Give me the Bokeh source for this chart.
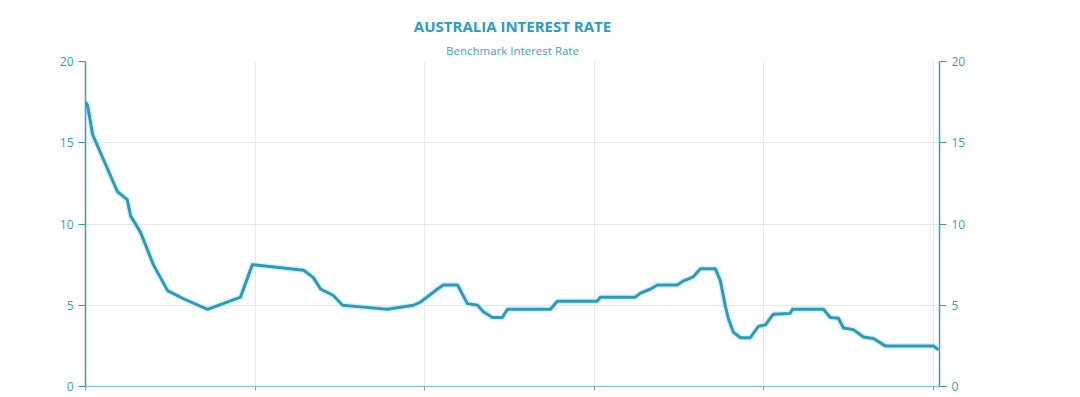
from bokeh.plotting import figure
from bokeh.models import Range1d, LinearAxis, FixedTicker, Title, ColumnDataSource
from bokeh.embed import file_html
from bokeh.resources import INLINE

# Decimal year and benchmark interest rate (%)
years = [1990.00, 1990.06, 1990.21, 1990.94, 1991.23, 1991.33, 1991.62, 1992.00,
         1992.42, 1992.89, 1993.60, 1994.57, 1994.92, 1996.43, 1996.72, 1996.93,
         1997.31, 1997.58, 1998.11, 1998.90, 1999.67, 1999.88, 2000.38, 2000.55,
         2000.97, 2001.26, 2001.56, 2001.73, 2002.00, 2002.29, 2002.44, 2003.71,
         2003.91, 2005.09, 2005.18, 2006.21, 2006.36, 2006.66, 2006.86, 2007.45,
         2007.63, 2007.92, 2008.13, 2008.57, 2008.72, 2008.87, 2008.96, 2009.10,
         2009.31, 2009.60, 2009.84, 2010.05, 2010.28, 2010.78, 2010.84, 2011.76,
         2011.96, 2012.20, 2012.35, 2012.64, 2012.94, 2013.23, 2013.58, 2015.00,
         2015.15]
rates = [17.5, 17.3, 15.5, 12.0, 11.5, 10.5, 9.5, 7.5,
         5.9, 5.4, 4.75, 5.5, 7.5, 7.15, 6.7, 6.0,
         5.6, 5.0, 4.9, 4.75, 5.0, 5.2, 6.0, 6.25,
         6.25, 5.1, 5.0, 4.6, 4.25, 4.25, 4.75, 4.75,
         5.25, 5.25, 5.5, 5.5, 5.75, 6.0, 6.25, 6.25,
         6.5, 6.75, 7.25, 7.25, 6.5, 4.9, 4.15, 3.35,
         3.0, 3.0, 3.7, 3.8, 4.45, 4.5, 4.75, 4.75,
         4.25, 4.2, 3.6, 3.5, 3.05, 2.95, 2.5, 2.5,
         2.25]
x_ticks = [1990, 1995, 2000, 2005, 2010, 2015]
y_ticks = [0, 5, 10, 15, 20]

title_text = "AUSTRALIA INTEREST RATE"
subtitle_text = "Benchmark Interest Rate"

TEAL = "#2a9bbd"
AXIS = "#3a9fb3"
FONT = "Open Sans"

p = figure(width=1080, height=397, output_backend="svg", toolbar_location=None,
           x_range=Range1d(1990, 2015.18), y_range=Range1d(0, 20),
           min_border_left=85, min_border_right=141, min_border_top=61,
           min_border_bottom=11, background_fill_color="white",
           border_fill_color="white")
p.outline_line_color = None

p.add_layout(Title(text=subtitle_text, align="center", text_font=FONT,
                   text_font_size="11.5px", text_font_style="normal",
                   text_color="#3aa6c8", standoff=8), "above")
p.add_layout(Title(text=title_text, align="center", text_font=FONT,
                   text_font_size="15px", text_font_style="bold",
                   text_color="#2a9cc4", standoff=1), "above")

src = ColumnDataSource(dict(x=years, y=rates))
p.line("x", "y", source=src, line_color="#c4e8f3", line_width=6, line_alpha=0.6)
p.line("x", "y", source=src, line_color=TEAL, line_width=3, line_join="round")

p.xaxis.ticker = FixedTicker(ticks=x_ticks)
p.yaxis.ticker = FixedTicker(ticks=y_ticks)
p.xgrid.ticker = FixedTicker(ticks=x_ticks)
p.ygrid.ticker = FixedTicker(ticks=y_ticks)
p.xgrid.grid_line_color = "#e6e9ec"
p.ygrid.grid_line_color = "#e6e9ec"

right = LinearAxis(ticker=FixedTicker(ticks=y_ticks))
p.add_layout(right, "right")

for ax in [p.yaxis[0], right]:
    ax.axis_line_color = AXIS
    ax.axis_line_width = 1.5
    ax.major_tick_line_color = AXIS
    ax.major_tick_out = 7
    ax.major_tick_in = 0
    ax.minor_tick_line_color = None
    ax.major_label_text_font = FONT
    ax.major_label_text_font_size = "12px"
    ax.major_label_text_color = "#3a9fb3"
    ax.major_label_standoff = 5

xa = p.xaxis[0]
xa.axis_line_color = "#8fc6d2"
xa.axis_line_width = 1.5
xa.major_tick_line_color = "#8fa0a8"
xa.major_tick_out = 4
xa.major_tick_in = 0
xa.minor_tick_line_color = None
xa.major_label_text_color = None
xa.major_label_text_font_size = "1px"
xa.major_label_standoff = 0

open("out.html", "w").write(file_html(p, INLINE))
